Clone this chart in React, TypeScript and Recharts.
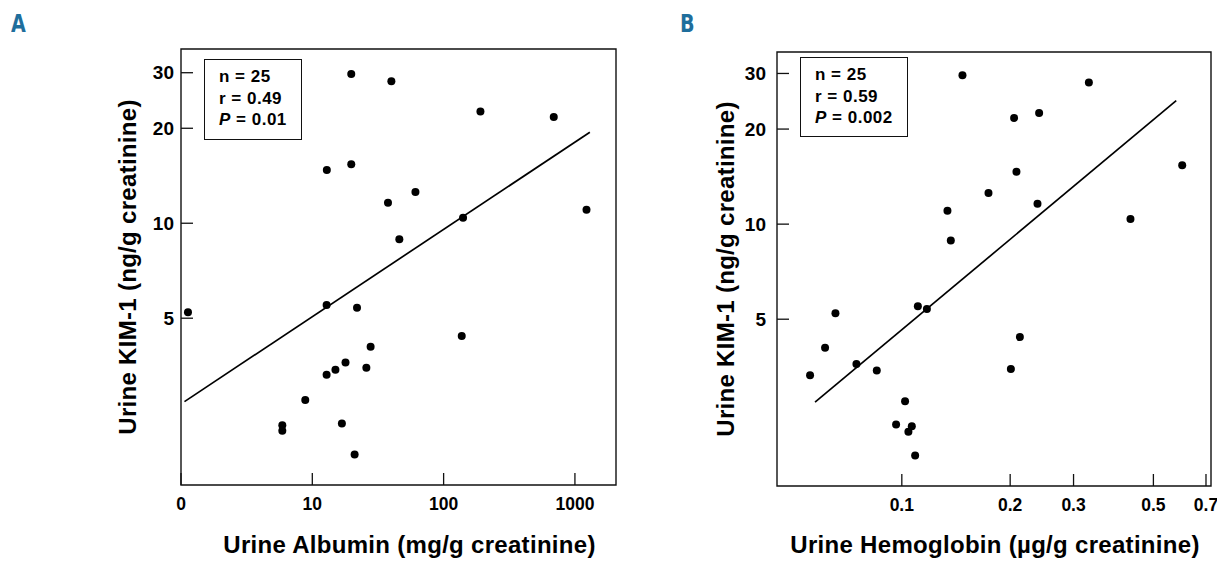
import { ScatterChart, Scatter, XAxis, YAxis, ReferenceArea, Label } from 'recharts';

// Panel A: urine albumin (x, log, 1 plotted as "0") vs urine KIM-1
const albuminX = [1.13, 12.85, 21.9, 27.8, 17.9, 15.0, 12.85, 25.8, 8.84, 5.91, 5.91, 16.8, 21.0, 137.4, 46.0, 140.6, 1225, 37.7, 19.8, 40.0, 190.7, 690, 12.9, 19.8, 61.0];
const albuminKim = [5.22, 5.51, 5.4, 4.06, 3.62, 3.43, 3.31, 3.48, 2.75, 2.29, 2.2, 2.32, 1.85, 4.39, 8.9, 10.4, 11.04, 11.62, 29.7, 28.2, 22.6, 21.7, 14.75, 15.38, 12.56];
const albuminFitX = [1.063, 1299];
const albuminFitY = [2.72, 19.43];
const albuminTicks = [1, 10, 100, 1000];

// Panel B: urine hemoglobin vs urine KIM-1
const hemoX = [0.0556, 0.0612, 0.0654, 0.0748, 0.0852, 0.1021, 0.0964, 0.1066, 0.1043, 0.1089, 0.1108, 0.1174, 0.1339, 0.1368, 0.2009, 0.2128, 0.2382, 0.4318, 0.1474, 0.3309, 0.2051, 0.2407, 0.1741, 0.2082, 0.6012];
const hemoKim = [3.32, 4.06, 5.22, 3.61, 3.44, 2.75, 2.32, 2.29, 2.2, 1.85, 5.5, 5.39, 11.02, 8.88, 3.48, 4.39, 11.6, 10.39, 29.6, 28.1, 21.7, 22.5, 12.56, 14.64, 15.35];
const hemoFitX = [0.0574, 0.5786];
const hemoFitY = [2.73, 24.6];
const hemoTicks = [0.1, 0.2, 0.3, 0.5, 0.7];

const kimTicks = [5, 10, 20, 30];

const statsA = ['n = 25', 'r = 0.49', '0.01'];
const statsB = ['n = 25', 'r = 0.59', '0.002'];

const FONT = '"Liberation Sans", Arial, Helvetica, sans-serif';
const xTickStyle = { fill: '#000', fontSize: 17.5, fontWeight: 700, fontFamily: FONT };
const yTickStyle = { fill: '#000', fontSize: 19, fontWeight: 700, fontFamily: FONT };
const titleStyle = { fill: '#000', fontSize: 24, fontWeight: 700, fontFamily: FONT, letterSpacing: 0.3 };

const toPoints = (xs: number[], ys: number[]) => xs.map((x, i) => ({ x, y: ys[i] }));

const Dot = (p: any) => <circle cx={p.cx} cy={p.cy} r={4} fill="#000" />;
const NoDot = () => <g />;

const StatsBox = ({ lines, style }: { lines: string[]; style: any }) => (
  <div
    style={{
      position: 'absolute',
      boxSizing: 'border-box',
      border: '1.5px solid #111',
      fontFamily: FONT,
      fontWeight: 700,
      fontSize: 17,
      letterSpacing: 0.5,
      lineHeight: '21.5px',
      background: '#fff',
      ...style,
    }}
  >
    <div>{lines[0]}</div>
    <div>{lines[1]}</div>
    <div>
      <i>P</i> = {lines[2]}
    </div>
  </div>
);

const PanelLetter = ({ text, left }: { text: string; left: number }) => (
  <div
    style={{
      position: 'absolute',
      left,
      top: 9,
      color: '#1f6e9c',
      fontFamily: '"DejaVu Sans Condensed", "DejaVu Sans", sans-serif',
      fontWeight: 700,
      fontSize: 25,
      transform: 'scaleX(0.85)',
      transformOrigin: 'left',
    }}
  >
    {text}
  </div>
);

export default function App() {
  const dataA = toPoints(albuminX, albuminKim);
  const fitA = toPoints(albuminFitX, albuminFitY);
  const dataB = toPoints(hemoX, hemoKim);
  const fitB = toPoints(hemoFitX, hemoFitY);
  const domA: [number, number] = [1, 2055];
  const domB: [number, number] = [0.045, 0.7228];
  const domYA: [number, number] = [1.48, 35.67];
  const domYB: [number, number] = [1.482, 35.08];

  return (
    <div style={{ position: 'absolute', left: 0, top: 0, width: 1217, height: 564, background: '#fff', overflow: 'hidden' }}>
      <PanelLetter text="A" left={11} />
      <PanelLetter text="B" left={680} />

      <div style={{ position: 'absolute', left: 0, top: 0 }}>
        <ScatterChart width={620} height={564} margin={{ top: 49, right: 4, bottom: 0, left: 0 }}>
          <XAxis
            dataKey="x"
            type="number"
            scale="log"
            domain={domA}
            allowDataOverflow
            ticks={albuminTicks}
            tickFormatter={(v: number) => (v === 1 ? '0' : String(v))}
            height={79}
            axisLine={false}
            tickSize={-12}
            tickMargin={25}
            tickLine={{ stroke: '#111', strokeWidth: 1.3 }}
            tick={xTickStyle}
            interval={0}
          >
            <Label value="Urine Albumin (mg/g creatinine)" position="insideBottom" offset={11} dx={11} style={titleStyle} />
          </XAxis>
          <YAxis
            dataKey="y"
            type="number"
            scale="log"
            domain={domYA}
            allowDataOverflow
            ticks={kimTicks}
            width={181}
            axisLine={false}
            tickSize={-12}
            tickMargin={19}
            tickLine={{ stroke: '#111', strokeWidth: 1.3 }}
            tick={yTickStyle}
            interval={0}
          >
            <Label value="Urine KIM-1 (ng/g creatinine)" angle={-90} position="insideLeft" offset={117} dx={10} style={{ ...titleStyle, textAnchor: 'middle' }} />
          </YAxis>
          <ReferenceArea x1={domA[0]} x2={domA[1]} y1={domYA[0]} y2={domYA[1]} fill="none" stroke="#111" strokeWidth={1.4} fillOpacity={0} strokeOpacity={1} ifOverflow="visible" />
          <Scatter data={dataA} shape={Dot} isAnimationActive={false} />
          <Scatter data={fitA} shape={NoDot} line={{ stroke: '#000', strokeWidth: 1.7 }} isAnimationActive={false} />
        </ScatterChart>
      </div>

      <div style={{ position: 'absolute', left: 620, top: 0 }}>
        <ScatterChart width={597} height={564} margin={{ top: 52, right: 6, bottom: 0, left: 0 }}>
          <XAxis
            dataKey="x"
            type="number"
            scale="log"
            domain={domB}
            allowDataOverflow
            ticks={hemoTicks}
            height={78}
            axisLine={false}
            tickSize={-12}
            tickMargin={25}
            tickLine={{ stroke: '#111', strokeWidth: 1.3 }}
            tick={xTickStyle}
            interval={0}
          >
            <Label value="Urine Hemoglobin (µg/g creatinine)" position="insideBottom" offset={11} dx={1} style={titleStyle} />
          </XAxis>
          <YAxis
            dataKey="y"
            type="number"
            scale="log"
            domain={domYB}
            allowDataOverflow
            ticks={kimTicks}
            width={157}
            axisLine={false}
            tickSize={-12}
            tickMargin={23}
            tickLine={{ stroke: '#111', strokeWidth: 1.3 }}
            tick={yTickStyle}
            interval={0}
          >
            <Label value="Urine KIM-1 (ng/g creatinine)" angle={-90} position="insideLeft" offset={96} dx={9} style={{ ...titleStyle, textAnchor: 'middle' }} />
          </YAxis>
          <ReferenceArea x1={domB[0]} x2={domB[1]} y1={domYB[0]} y2={domYB[1]} fill="none" stroke="#111" strokeWidth={1.4} fillOpacity={0} strokeOpacity={1} ifOverflow="visible" />
          <Scatter data={dataB} shape={Dot} isAnimationActive={false} />
          <Scatter data={fitB} shape={NoDot} line={{ stroke: '#000', strokeWidth: 1.7 }} isAnimationActive={false} />
        </ScatterChart>
      </div>

      <StatsBox lines={statsA} style={{ left: 204, top: 59, width: 98, height: 81, padding: '6px 0 0 14px' }} />
      <StatsBox lines={statsB} style={{ left: 800, top: 57, width: 108, height: 80, padding: '6px 0 0 14px' }} />
    </div>
  );
}
